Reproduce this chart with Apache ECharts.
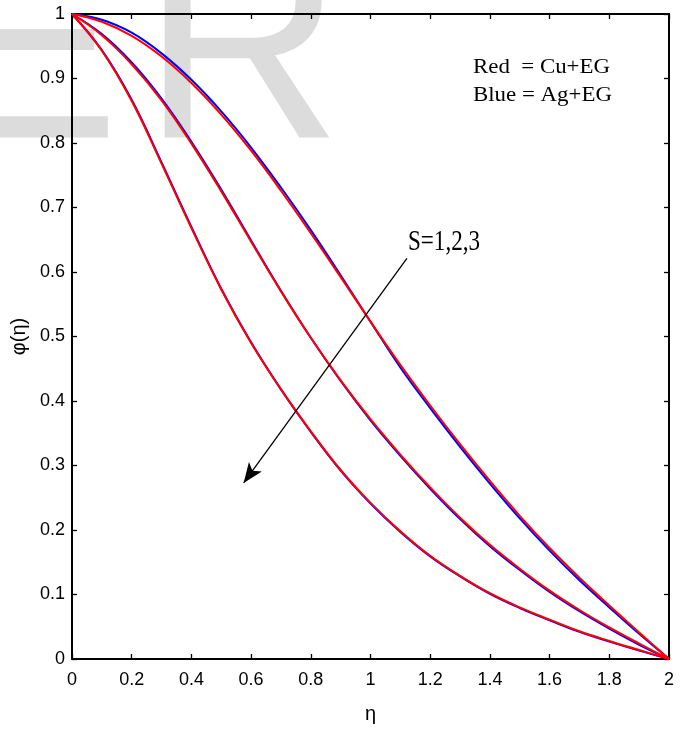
<!DOCTYPE html>
<html><head><meta charset="utf-8">
<script src="https://cdn.jsdelivr.net/npm/echarts@6/dist/echarts.min.js"></script>
<style>html,body{margin:0;padding:0;background:#fff}#c{width:685px;height:731px}</style>
</head><body><div id="c"></div>
<script>
const eta = [0,0.1,0.2,0.3,0.4,0.5,0.6,0.7,0.8,0.9,1.0,1.1,1.2,1.3,1.4,1.5,1.6,1.7,1.8,1.9,2.0];
// S = 1
const s1Blue = [1,0.991,0.971,0.939,0.898,0.849,0.793,0.731,0.665,0.595,0.523,0.452,0.389,0.329,0.272,0.218,0.168,0.122,0.080,0.039,0];
const s1Red  = [1,0.988,0.966,0.934,0.893,0.844,0.788,0.726,0.660,0.592,0.523,0.456,0.393,0.333,0.276,0.222,0.172,0.126,0.083,0.041,0];
// S = 2
const s2Blue = [1,0.969,0.925,0.869,0.802,0.728,0.649,0.571,0.498,0.431,0.370,0.315,0.264,0.217,0.175,0.138,0.104,0.074,0.047,0.022,0];
const s2Red  = [1,0.967,0.922,0.866,0.799,0.725,0.647,0.570,0.498,0.432,0.372,0.317,0.266,0.219,0.177,0.140,0.106,0.076,0.049,0.024,0];
// S = 3
const s3Blue = [1,0.944,0.867,0.770,0.670,0.574,0.491,0.418,0.352,0.292,0.241,0.197,0.159,0.128,0.101,0.079,0.060,0.042,0.027,0.013,0];
const s3Red  = [1,0.943,0.865,0.768,0.668,0.573,0.490,0.418,0.353,0.293,0.242,0.198,0.160,0.129,0.102,0.080,0.061,0.043,0.028,0.014,0];
// annotation arrow (data coordinates)
const arrowStart = [1.122, 0.621];
const arrowEnd = [0.575, 0.273];
const legendLines = ['Red  = Cu+EG', 'Blue = Ag+EG'];
const arrowLabel = 'S=1,2,3';

const chart = echarts.init(document.getElementById('c'), null, {renderer: 'canvas'});
const pairs = y => eta.map((x, i) => [x, y[i]]);
const sans = '"Liberation Sans", Arial, sans-serif';
const axLine = {show: true, onZero: false, lineStyle: {color: '#000', width: 2}};
const axTick = {show: true, inside: true, length: 5, lineStyle: {color: '#000', width: 1.3}};
const lbl = {color: '#000', fontSize: 18, fontFamily: sans};

function line(name, data, color, z) {
  return {name, type: 'line', data: pairs(data), smooth: 0.4,
    showSymbol: false, symbol: 'none', lineStyle: {color, width: 2}, z, animation: false};
}

const series = [
  line('s1b', s1Blue, '#0000ff', 2),
  line('s2b', s2Blue, '#0000ff', 2),
  line('s3b', s3Blue, '#0000ff', 2),
  line('s1r', s1Red, '#ff0000', 3),
  line('s2r', s2Red, '#ff0000', 3),
  line('s3r', s3Red, '#ff0000', 3)
];
series[5].markLine = {
  silent: true, animation: false, symbol: ['none', 'arrow'], symbolSize: [12, 20],
  lineStyle: {color: '#000', width: 1.3, type: 'solid'}, label: {show: false},
  emphasis: {disabled: true},
  data: [[{coord: arrowStart}, {coord: arrowEnd}]]
};

const option = {
  animation: false,
  backgroundColor: '#fff',
  grid: {left: 72, right: 16, top: 14, bottom: 72, containLabel: false, outerBoundsMode: 'none'},
  xAxis: [
    {type: 'value', min: 0, max: 2, interval: 0.2, position: 'bottom',
     axisLine: axLine, axisTick: axTick, splitLine: {show: false},
     axisLabel: Object.assign({margin: 12}, lbl),
     name: 'η', nameLocation: 'middle', nameGap: 45,
     nameTextStyle: {color: '#000', fontSize: 20, fontFamily: sans}},
    {type: 'value', min: 0, max: 2, interval: 0.2, position: 'top',
     axisLine: axLine, axisTick: axTick, splitLine: {show: false}, axisLabel: {show: false}}
  ],
  yAxis: [
    {type: 'value', min: 0, max: 1, interval: 0.1, position: 'left',
     axisLine: axLine, axisTick: axTick, splitLine: {show: false},
     axisLabel: Object.assign({margin: 7}, lbl),
     name: 'φ(η)', nameLocation: 'middle', nameGap: 40,
     nameTextStyle: {color: '#000', fontSize: 20, fontFamily: sans}},
    {type: 'value', min: 0, max: 1, interval: 0.1, position: 'right',
     axisLine: axLine, axisTick: axTick, splitLine: {show: false}, axisLabel: {show: false}}
  ],
  graphic: [
    {type: 'text', x: -65, y: 61, z: -100, silent: true,
     style: {text: 'E', font: '277px "Liberation Sans"', fill: '#dcdcdc', align: 'left', verticalAlign: 'middle'}},
    {type: 'text', x: 142, y: 61, z: -100, silent: true,
     style: {text: 'R', font: '277px "Liberation Sans"', fill: '#dcdcdc', align: 'left', verticalAlign: 'middle'}},
    {type: 'text', x: 473, y: 67, z: 100, silent: true, scaleX: 1.04,
     style: {text: legendLines[0], font: '22px "Liberation Serif"', fill: '#000', align: 'left', verticalAlign: 'middle'}},
    {type: 'text', x: 473, y: 95, z: 100, silent: true, scaleX: 1.04,
     style: {text: legendLines[1], font: '22px "Liberation Serif"', fill: '#000', align: 'left', verticalAlign: 'middle'}},
    {type: 'text', x: 408, y: 242, z: 100, silent: true, scaleX: 0.77,
     style: {text: arrowLabel, font: '30px "Liberation Serif"', fill: '#000', align: 'left', verticalAlign: 'middle'}}
  ],
  series
};
chart.setOption(option);
</script>
</body></html>
